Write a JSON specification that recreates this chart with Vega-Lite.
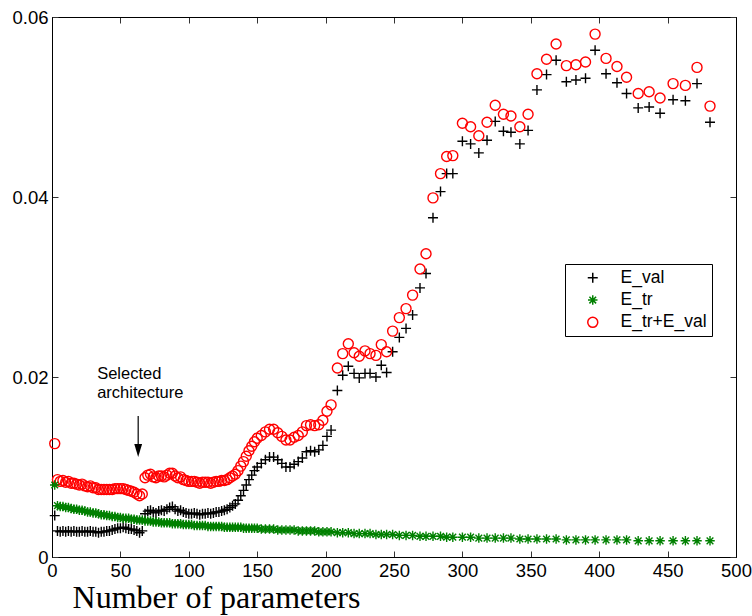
{
  "$schema": "https://vega.github.io/schema/vega-lite/v6.json",
  "autosize": "none",
  "width": 684,
  "height": 540,
  "padding": {"left": 52, "top": 17, "right": 16, "bottom": 59},
  "background": "white",
  "datasets": {
    "errors": [
      {"x": 2, "E_val": 0.0046, "E_tr": 0.0080, "E_tr+E_val": 0.0126},
      {"x": 4, "E_val": 0.0029, "E_tr": 0.0057, "E_tr+E_val": 0.0086},
      {"x": 6, "E_val": 0.0028, "E_tr": 0.0056, "E_tr+E_val": 0.0084},
      {"x": 8, "E_val": 0.0029, "E_tr": 0.0056, "E_tr+E_val": 0.0085},
      {"x": 10, "E_val": 0.0028, "E_tr": 0.0055, "E_tr+E_val": 0.0083},
      {"x": 12, "E_val": 0.0029, "E_tr": 0.0055, "E_tr+E_val": 0.0084},
      {"x": 14, "E_val": 0.0028, "E_tr": 0.0054, "E_tr+E_val": 0.0082},
      {"x": 16, "E_val": 0.0029, "E_tr": 0.0053, "E_tr+E_val": 0.0082},
      {"x": 18, "E_val": 0.0028, "E_tr": 0.0053, "E_tr+E_val": 0.0081},
      {"x": 20, "E_val": 0.0028, "E_tr": 0.0052, "E_tr+E_val": 0.0080},
      {"x": 22, "E_val": 0.0029, "E_tr": 0.0052, "E_tr+E_val": 0.0081},
      {"x": 24, "E_val": 0.0028, "E_tr": 0.0051, "E_tr+E_val": 0.0079},
      {"x": 26, "E_val": 0.0028, "E_tr": 0.0050, "E_tr+E_val": 0.0078},
      {"x": 28, "E_val": 0.0029, "E_tr": 0.0050, "E_tr+E_val": 0.0079},
      {"x": 30, "E_val": 0.0028, "E_tr": 0.0049, "E_tr+E_val": 0.0077},
      {"x": 32, "E_val": 0.0028, "E_tr": 0.0049, "E_tr+E_val": 0.0077},
      {"x": 34, "E_val": 0.0027, "E_tr": 0.0048, "E_tr+E_val": 0.0075},
      {"x": 36, "E_val": 0.0028, "E_tr": 0.0047, "E_tr+E_val": 0.0075},
      {"x": 38, "E_val": 0.0028, "E_tr": 0.0047, "E_tr+E_val": 0.0075},
      {"x": 40, "E_val": 0.0029, "E_tr": 0.0046, "E_tr+E_val": 0.0075},
      {"x": 42, "E_val": 0.0029, "E_tr": 0.0046, "E_tr+E_val": 0.0075},
      {"x": 44, "E_val": 0.0030, "E_tr": 0.0045, "E_tr+E_val": 0.0075},
      {"x": 46, "E_val": 0.0031, "E_tr": 0.0045, "E_tr+E_val": 0.0076},
      {"x": 48, "E_val": 0.0032, "E_tr": 0.0044, "E_tr+E_val": 0.0076},
      {"x": 50, "E_val": 0.0032, "E_tr": 0.0044, "E_tr+E_val": 0.0076},
      {"x": 52, "E_val": 0.0033, "E_tr": 0.0043, "E_tr+E_val": 0.0076},
      {"x": 54, "E_val": 0.0032, "E_tr": 0.0043, "E_tr+E_val": 0.0075},
      {"x": 56, "E_val": 0.0031, "E_tr": 0.0043, "E_tr+E_val": 0.0074},
      {"x": 58, "E_val": 0.0031, "E_tr": 0.0042, "E_tr+E_val": 0.0073},
      {"x": 60, "E_val": 0.0030, "E_tr": 0.0042, "E_tr+E_val": 0.0072},
      {"x": 62, "E_val": 0.0029, "E_tr": 0.0041, "E_tr+E_val": 0.0070},
      {"x": 64, "E_val": 0.0027, "E_tr": 0.0041, "E_tr+E_val": 0.0068},
      {"x": 66, "E_val": 0.0029, "E_tr": 0.0041, "E_tr+E_val": 0.0070},
      {"x": 68, "E_val": 0.0048, "E_tr": 0.0040, "E_tr+E_val": 0.0088},
      {"x": 70, "E_val": 0.0051, "E_tr": 0.0040, "E_tr+E_val": 0.0091},
      {"x": 72, "E_val": 0.0052, "E_tr": 0.0040, "E_tr+E_val": 0.0092},
      {"x": 74, "E_val": 0.0050, "E_tr": 0.0039, "E_tr+E_val": 0.0089},
      {"x": 76, "E_val": 0.0049, "E_tr": 0.0039, "E_tr+E_val": 0.0088},
      {"x": 78, "E_val": 0.0051, "E_tr": 0.0039, "E_tr+E_val": 0.0090},
      {"x": 80, "E_val": 0.0052, "E_tr": 0.0038, "E_tr+E_val": 0.0090},
      {"x": 82, "E_val": 0.0051, "E_tr": 0.0038, "E_tr+E_val": 0.0089},
      {"x": 84, "E_val": 0.0053, "E_tr": 0.0038, "E_tr+E_val": 0.0091},
      {"x": 86, "E_val": 0.0055, "E_tr": 0.0038, "E_tr+E_val": 0.0093},
      {"x": 88, "E_val": 0.0056, "E_tr": 0.0037, "E_tr+E_val": 0.0093},
      {"x": 90, "E_val": 0.0053, "E_tr": 0.0037, "E_tr+E_val": 0.0090},
      {"x": 92, "E_val": 0.0051, "E_tr": 0.0037, "E_tr+E_val": 0.0088},
      {"x": 94, "E_val": 0.0052, "E_tr": 0.0037, "E_tr+E_val": 0.0089},
      {"x": 96, "E_val": 0.0050, "E_tr": 0.0036, "E_tr+E_val": 0.0086},
      {"x": 98, "E_val": 0.0049, "E_tr": 0.0036, "E_tr+E_val": 0.0085},
      {"x": 100, "E_val": 0.0048, "E_tr": 0.0036, "E_tr+E_val": 0.0084},
      {"x": 102, "E_val": 0.0048, "E_tr": 0.0036, "E_tr+E_val": 0.0084},
      {"x": 104, "E_val": 0.0049, "E_tr": 0.0035, "E_tr+E_val": 0.0084},
      {"x": 106, "E_val": 0.0048, "E_tr": 0.0035, "E_tr+E_val": 0.0083},
      {"x": 108, "E_val": 0.0047, "E_tr": 0.0035, "E_tr+E_val": 0.0082},
      {"x": 110, "E_val": 0.0048, "E_tr": 0.0035, "E_tr+E_val": 0.0083},
      {"x": 112, "E_val": 0.0048, "E_tr": 0.0035, "E_tr+E_val": 0.0083},
      {"x": 114, "E_val": 0.0049, "E_tr": 0.0034, "E_tr+E_val": 0.0083},
      {"x": 116, "E_val": 0.0048, "E_tr": 0.0034, "E_tr+E_val": 0.0082},
      {"x": 118, "E_val": 0.0049, "E_tr": 0.0034, "E_tr+E_val": 0.0083},
      {"x": 120, "E_val": 0.0050, "E_tr": 0.0034, "E_tr+E_val": 0.0084},
      {"x": 122, "E_val": 0.0050, "E_tr": 0.0034, "E_tr+E_val": 0.0084},
      {"x": 124, "E_val": 0.0051, "E_tr": 0.0034, "E_tr+E_val": 0.0085},
      {"x": 126, "E_val": 0.0052, "E_tr": 0.0033, "E_tr+E_val": 0.0085},
      {"x": 128, "E_val": 0.0053, "E_tr": 0.0033, "E_tr+E_val": 0.0086},
      {"x": 130, "E_val": 0.0055, "E_tr": 0.0033, "E_tr+E_val": 0.0088},
      {"x": 132, "E_val": 0.0057, "E_tr": 0.0033, "E_tr+E_val": 0.0090},
      {"x": 134, "E_val": 0.0059, "E_tr": 0.0033, "E_tr+E_val": 0.0092},
      {"x": 136, "E_val": 0.0063, "E_tr": 0.0033, "E_tr+E_val": 0.0096},
      {"x": 138, "E_val": 0.0068, "E_tr": 0.0033, "E_tr+E_val": 0.0101},
      {"x": 140, "E_val": 0.0074, "E_tr": 0.0032, "E_tr+E_val": 0.0106},
      {"x": 142, "E_val": 0.0080, "E_tr": 0.0032, "E_tr+E_val": 0.0112},
      {"x": 144, "E_val": 0.0086, "E_tr": 0.0032, "E_tr+E_val": 0.0118},
      {"x": 146, "E_val": 0.0091, "E_tr": 0.0032, "E_tr+E_val": 0.0123},
      {"x": 148, "E_val": 0.0096, "E_tr": 0.0032, "E_tr+E_val": 0.0128},
      {"x": 150, "E_val": 0.0100, "E_tr": 0.0032, "E_tr+E_val": 0.0132},
      {"x": 153, "E_val": 0.0104, "E_tr": 0.0031, "E_tr+E_val": 0.0135},
      {"x": 156, "E_val": 0.0108, "E_tr": 0.0031, "E_tr+E_val": 0.0139},
      {"x": 159, "E_val": 0.0111, "E_tr": 0.0031, "E_tr+E_val": 0.0142},
      {"x": 162, "E_val": 0.0111, "E_tr": 0.0031, "E_tr+E_val": 0.0142},
      {"x": 165, "E_val": 0.0108, "E_tr": 0.0030, "E_tr+E_val": 0.0138},
      {"x": 168, "E_val": 0.0104, "E_tr": 0.0030, "E_tr+E_val": 0.0134},
      {"x": 171, "E_val": 0.0100, "E_tr": 0.0030, "E_tr+E_val": 0.0130},
      {"x": 174, "E_val": 0.0100, "E_tr": 0.0030, "E_tr+E_val": 0.0130},
      {"x": 177, "E_val": 0.0103, "E_tr": 0.0030, "E_tr+E_val": 0.0133},
      {"x": 180, "E_val": 0.0106, "E_tr": 0.0029, "E_tr+E_val": 0.0135},
      {"x": 183, "E_val": 0.0110, "E_tr": 0.0029, "E_tr+E_val": 0.0139},
      {"x": 186, "E_val": 0.0117, "E_tr": 0.0029, "E_tr+E_val": 0.0146},
      {"x": 189, "E_val": 0.0118, "E_tr": 0.0029, "E_tr+E_val": 0.0147},
      {"x": 192, "E_val": 0.0117, "E_tr": 0.0029, "E_tr+E_val": 0.0146},
      {"x": 195, "E_val": 0.0119, "E_tr": 0.0028, "E_tr+E_val": 0.0147},
      {"x": 198, "E_val": 0.0124, "E_tr": 0.0028, "E_tr+E_val": 0.0152},
      {"x": 201, "E_val": 0.0134, "E_tr": 0.0028, "E_tr+E_val": 0.0162},
      {"x": 204, "E_val": 0.0141, "E_tr": 0.0028, "E_tr+E_val": 0.0169},
      {"x": 208.6, "E_val": 0.0185, "E_tr": 0.0027, "E_tr+E_val": 0.0210},
      {"x": 212.5, "E_val": 0.0202, "E_tr": 0.0027, "E_tr+E_val": 0.0226},
      {"x": 216.6, "E_val": 0.0212, "E_tr": 0.0027, "E_tr+E_val": 0.0237},
      {"x": 220.8, "E_val": 0.0204, "E_tr": 0.0026, "E_tr+E_val": 0.0227},
      {"x": 224.6, "E_val": 0.0199, "E_tr": 0.0026, "E_tr+E_val": 0.0223},
      {"x": 228.8, "E_val": 0.0204, "E_tr": 0.0026, "E_tr+E_val": 0.0229},
      {"x": 232.5, "E_val": 0.0204, "E_tr": 0.0026, "E_tr+E_val": 0.0226},
      {"x": 236.8, "E_val": 0.0200, "E_tr": 0.0025, "E_tr+E_val": 0.0224},
      {"x": 240.7, "E_val": 0.0213, "E_tr": 0.0025, "E_tr+E_val": 0.0236},
      {"x": 244.6, "E_val": 0.0205, "E_tr": 0.0025, "E_tr+E_val": 0.0228},
      {"x": 249, "E_val": 0.0228, "E_tr": 0.0025, "E_tr+E_val": 0.0251},
      {"x": 253.9, "E_val": 0.0244, "E_tr": 0.0024, "E_tr+E_val": 0.0266},
      {"x": 258.8, "E_val": 0.0254, "E_tr": 0.0024, "E_tr+E_val": 0.0276},
      {"x": 263.6, "E_val": 0.0269, "E_tr": 0.0024, "E_tr+E_val": 0.0291},
      {"x": 269, "E_val": 0.0299, "E_tr": 0.0023, "E_tr+E_val": 0.0320},
      {"x": 273.4, "E_val": 0.0315, "E_tr": 0.0023, "E_tr+E_val": 0.0337},
      {"x": 278.5, "E_val": 0.0377, "E_tr": 0.0023, "E_tr+E_val": 0.0399},
      {"x": 284, "E_val": 0.0406, "E_tr": 0.0023, "E_tr+E_val": 0.0426},
      {"x": 288.5, "E_val": 0.0426, "E_tr": 0.0022, "E_tr+E_val": 0.0445},
      {"x": 293, "E_val": 0.0426, "E_tr": 0.0022, "E_tr+E_val": 0.0446},
      {"x": 300, "E_val": 0.0462, "E_tr": 0.0022, "E_tr+E_val": 0.0482},
      {"x": 306, "E_val": 0.0459, "E_tr": 0.0022, "E_tr+E_val": 0.0478},
      {"x": 312, "E_val": 0.0449, "E_tr": 0.0021, "E_tr+E_val": 0.0468},
      {"x": 318, "E_val": 0.0463, "E_tr": 0.0021, "E_tr+E_val": 0.0483},
      {"x": 324, "E_val": 0.0484, "E_tr": 0.0021, "E_tr+E_val": 0.0502},
      {"x": 330, "E_val": 0.0473, "E_tr": 0.0021, "E_tr+E_val": 0.0492},
      {"x": 335.5, "E_val": 0.0472, "E_tr": 0.0021, "E_tr+E_val": 0.0490},
      {"x": 342, "E_val": 0.0459, "E_tr": 0.0020, "E_tr+E_val": 0.0478},
      {"x": 348, "E_val": 0.0474, "E_tr": 0.0020, "E_tr+E_val": 0.0492},
      {"x": 354.5, "E_val": 0.0519, "E_tr": 0.0020, "E_tr+E_val": 0.0537},
      {"x": 361.5, "E_val": 0.0536, "E_tr": 0.0020, "E_tr+E_val": 0.0553},
      {"x": 368.5, "E_val": 0.0552, "E_tr": 0.0020, "E_tr+E_val": 0.0570},
      {"x": 376, "E_val": 0.0528, "E_tr": 0.0019, "E_tr+E_val": 0.0546},
      {"x": 383, "E_val": 0.0530, "E_tr": 0.0019, "E_tr+E_val": 0.0547},
      {"x": 390, "E_val": 0.0532, "E_tr": 0.0019, "E_tr+E_val": 0.0550},
      {"x": 397, "E_val": 0.0563, "E_tr": 0.0019, "E_tr+E_val": 0.0581},
      {"x": 405, "E_val": 0.0537, "E_tr": 0.0019, "E_tr+E_val": 0.0554},
      {"x": 413, "E_val": 0.0527, "E_tr": 0.0019, "E_tr+E_val": 0.0545},
      {"x": 420, "E_val": 0.0515, "E_tr": 0.0019, "E_tr+E_val": 0.0533},
      {"x": 428.5, "E_val": 0.0499, "E_tr": 0.0018, "E_tr+E_val": 0.0515},
      {"x": 436.5, "E_val": 0.0500, "E_tr": 0.0018, "E_tr+E_val": 0.0517},
      {"x": 444.5, "E_val": 0.0493, "E_tr": 0.0018, "E_tr+E_val": 0.0510},
      {"x": 454, "E_val": 0.0508, "E_tr": 0.0018, "E_tr+E_val": 0.0526},
      {"x": 463, "E_val": 0.0507, "E_tr": 0.0018, "E_tr+E_val": 0.0524},
      {"x": 471.5, "E_val": 0.0526, "E_tr": 0.0018, "E_tr+E_val": 0.0544},
      {"x": 481, "E_val": 0.0483, "E_tr": 0.0018, "E_tr+E_val": 0.0501}
    ],
    "notes": [
      {"x": 33, "y": 0.01978, "label": "Selected"},
      {"x": 33, "y": 0.01763, "label": "architecture"}
    ],
    "arrow": [
      {"x": 63, "y": 0.01567, "y2": 0.01233, "head": 0.01183}
    ]
  },
  "layer": [
    {
      "data": {"name": "errors"},
      "transform": [{"fold": ["E_val", "E_tr", "E_tr+E_val"], "as": ["series", "value"]}],
      "mark": {"type": "point", "filled": false, "strokeWidth": 1.4, "size": 100, "opacity": 1, "clip": false},
      "encoding": {
        "x": {
          "field": "x", "type": "quantitative",
          "scale": {"domain": [0, 500], "nice": false, "zero": false},
          "axis": {
            "orient": "bottom",
            "values": [0, 50, 100, 150, 200, 250, 300, 350, 400, 450, 500],
            "labelFlush": false, "labelPadding": 10,
            "title": "Number of parameters",
            "titleFont": "Liberation Serif", "titleFontSize": 32, "titleFontWeight": "normal",
            "titleColor": "black", "titleX": 164, "titleY": 50, "titleAlign": "center",
            "titleBaseline": "alphabetic", "titleAnchor": null
          }
        },
        "y": {
          "field": "value", "type": "quantitative",
          "scale": {"domain": [0, 0.06], "nice": false, "zero": true},
          "axis": {"orient": "left", "values": [0, 0.02, 0.04, 0.06], "format": ".2~f", "title": null, "labelPadding": 10}
        },
        "color": {
          "field": "series", "type": "nominal",
          "scale": {"domain": ["E_val", "E_tr", "E_tr+E_val"], "range": ["#000000", "#008000", "#ff0000"]},
          "legend": {
            "title": null, "orient": "none", "legendX": 513, "legendY": 247,
            "direction": "vertical"
          }
        },
        "shape": {
          "field": "series", "type": "nominal",
          "scale": {
            "domain": ["E_val", "E_tr", "E_tr+E_val"],
            "range": [
              "M-1,0H1M0,-1V1",
              "M-0.95,0H0.95M0,-0.95V0.95M-0.67,-0.67L0.67,0.67M-0.67,0.67L0.67,-0.67",
              "circle"
            ]
          },
          "legend": {
            "title": null, "orient": "none", "legendX": 513, "legendY": 247,
            "direction": "vertical"
          }
        },
        "order": {"field": "series", "sort": "descending"}
      }
    },
    {
      "data": {"name": "notes"},
      "mark": {"type": "text", "align": "left", "baseline": "alphabetic", "font": "Liberation Sans", "fontSize": 16.5, "color": "black"},
      "encoding": {
        "x": {"field": "x", "type": "quantitative", "axis": null},
        "y": {"field": "y", "type": "quantitative", "axis": null},
        "text": {"field": "label"}
      }
    },
    {
      "data": {"name": "arrow"},
      "mark": {"type": "rule", "color": "black", "strokeWidth": 1.2},
      "encoding": {
        "x": {"field": "x", "type": "quantitative", "axis": null},
        "y": {"field": "y", "type": "quantitative", "axis": null},
        "y2": {"field": "y2"}
      }
    },
    {
      "data": {"name": "arrow"},
      "mark": {"type": "point", "shape": "M-0.3,-0.5L0.3,-0.5L0,0.5Z", "filled": true, "color": "black", "size": 676, "opacity": 1},
      "encoding": {
        "x": {"field": "x", "type": "quantitative", "axis": null},
        "y": {"field": "head", "type": "quantitative", "axis": null}
      }
    },
    {
      "data": {"name": "notes"},
      "mark": {"type": "point", "opacity": 0},
      "encoding": {
        "x": {
          "field": "x", "type": "quantitative",
          "axis": {"orient": "top", "labels": false, "title": null, "values": [0, 50, 100, 150, 200, 250, 300, 350, 400, 450, 500]}
        },
        "y": {
          "field": "y", "type": "quantitative",
          "axis": {"orient": "right", "labels": false, "title": null, "values": [0, 0.02, 0.04, 0.06]}
        }
      }
    }
  ],
  "resolve": {"axis": {"x": "independent", "y": "independent"}},
  "config": {
    "view": {"stroke": "black", "strokeWidth": 1},
    "axis": {
      "grid": false, "domainColor": "black", "domainWidth": 1,
      "tickColor": "#333333", "tickSize": -6, "tickWidth": 1,
      "labelFont": "Liberation Sans", "labelFontSize": 18.5, "labelColor": "black"
    },
    "legend": {
      "strokeColor": "black", "fillColor": "white", "padding": 5,
      "symbolOffset": 14, "labelOffset": 19, "rowPadding": 3.3,
      "labelFont": "Liberation Sans", "labelFontSize": 17.5, "labelColor": "black",
      "symbolStrokeWidth": 1.5, "symbolSize": 100, "cornerRadius": 0
    }
  }
}
